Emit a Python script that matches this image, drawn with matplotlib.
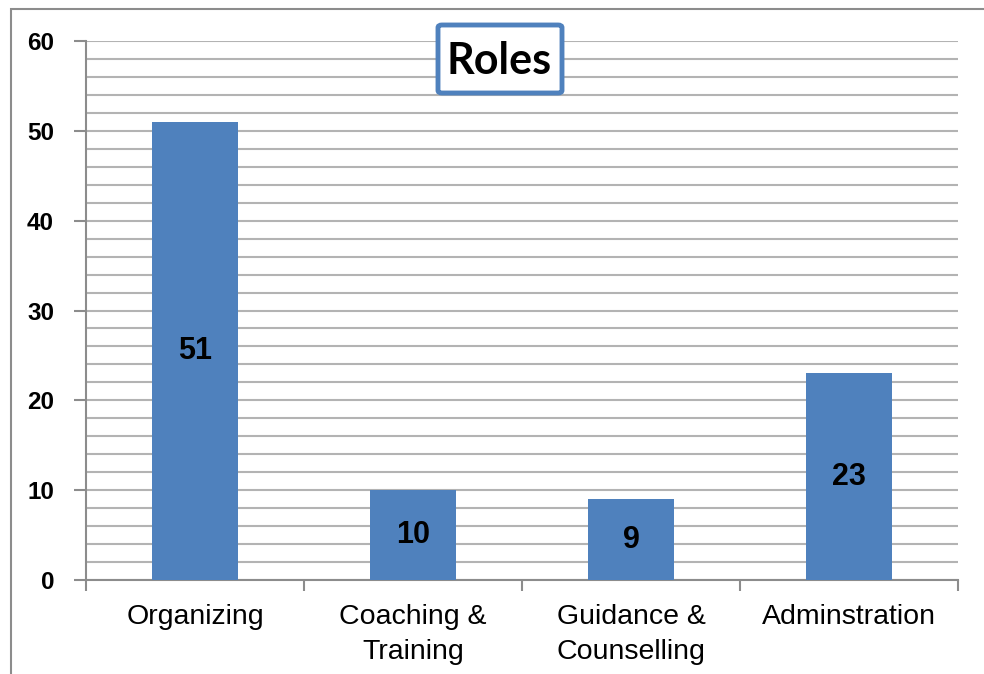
#!/usr/bin/env python3
"""Roles: counts per role, Excel-style bar chart."""
import matplotlib
matplotlib.use("Agg")
import matplotlib.pyplot as plt
from matplotlib.patches import Rectangle, FancyBboxPatch

plt.rcParams["font.family"] = ["Liberation Sans", "DejaVu Sans"]

roles = ["Organizing", "Coaching &\nTraining", "Guidance &\nCounselling", "Adminstration"]
counts = [51, 10, 9, 23]
y_major = [0, 10, 20, 30, 40, 50, 60]
y_minor = list(range(0, 61, 2))

C_BAR = "#4F81BD"
C_GRID = "#B3B3B3"
C_AXIS = "#8C8C8C"

fig = plt.figure(figsize=(9.84, 6.74), dpi=100)
ax = fig.add_axes([86 / 984, 1 - 580 / 674, (958 - 86) / 984, (580 - 41) / 674])

x = range(len(roles))
bars = ax.bar(x, counts, width=0.395, color=C_BAR, zorder=3)
for b, v in zip(bars, counts):
    ax.text(b.get_x() + b.get_width() / 2, v / 2, str(v), ha="center", va="center",
            fontsize=22, fontweight="bold", color="black", zorder=4)

ax.set_xlim(-0.5, len(roles) - 0.5)
ax.set_ylim(0, 60)
ax.set_yticks(y_major)
ax.set_yticklabels([str(v) for v in y_major], fontweight="bold", fontsize=17.5)
ax.set_yticks(y_minor, minor=True)
ax.grid(axis="y", which="both", color=C_GRID, lw=1.5, zorder=0)
ax.set_axisbelow(True)

ax.set_xticks(list(x))
ax.set_xticklabels(roles, fontsize=20.5, linespacing=1.45)
ax.tick_params(axis="x", length=0, pad=17)
# category boundary ticks
ax.set_xticks([i - 0.5 for i in range(len(roles) + 1)], minor=True)
ax.tick_params(axis="x", which="minor", length=8, width=1.5, color=C_AXIS, direction="out")
ax.tick_params(axis="y", which="major", length=9, width=1.5, color=C_AXIS,
               direction="out", pad=14)
ax.tick_params(axis="y", which="minor", length=0)

for s in ["top", "right"]:
    ax.spines[s].set_visible(False)
for s in ["left", "bottom"]:
    ax.spines[s].set_color(C_AXIS)
    ax.spines[s].set_linewidth(1.5)

# title box
fig.add_artist(FancyBboxPatch((438 / 984, 1 - 93 / 674), 124 / 984, 68 / 674,
                              boxstyle="round,pad=0,rounding_size=0.004",
                              transform=fig.transFigure, fc="white", ec=C_BAR, lw=3.5,
                              zorder=5))
fig.text(499.5 / 984, 1 - 61 / 674, "Roles", ha="center", va="center",
         fontsize=31, fontweight="bold", family=["Lato", "DejaVu Sans"], zorder=6)

# outer chart frame (only top and left edges visible in crop)
fig.add_artist(Rectangle((11 / 984, -0.1), 1.2, 1.1 - 9 / 674, transform=fig.transFigure,
                         fill=False, ec="#8C8C8C", lw=1.5))

fig.savefig("out.png", dpi=100)
plt.close(fig)
